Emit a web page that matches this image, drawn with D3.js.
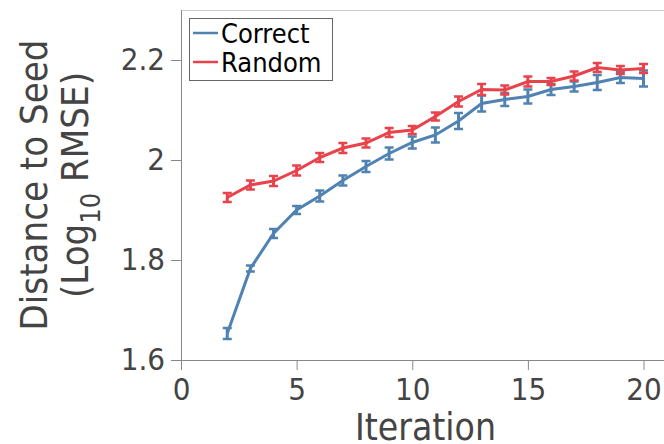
<!DOCTYPE html>
<html>
<head>
<meta charset="utf-8">
<script src="https://d3js.org/d3.v7.min.js"></script>
<style>
  body { margin: 0; background: #fff; }
  text { font-family: "DejaVu Sans Condensed", "DejaVu Sans", sans-serif; }
</style>
</head>
<body>
<script>
// les donnees
const iterations = [2, 3, 4, 5, 6, 7, 8, 9, 10, 11, 12, 13, 14, 15, 16, 17, 18, 19, 20];
const correctMean = [1.653, 1.783, 1.853, 1.900, 1.928, 1.959, 1.987, 2.013, 2.035, 2.050, 2.078, 2.113, 2.121, 2.127, 2.141, 2.147, 2.155, 2.165, 2.163];
const correctErr  = [0.011, 0.006, 0.009, 0.008, 0.011, 0.010, 0.011, 0.012, 0.012, 0.015, 0.016, 0.016, 0.013, 0.014, 0.011, 0.010, 0.015, 0.011, 0.016];
const randomMean  = [1.925, 1.950, 1.958, 1.979, 2.005, 2.024, 2.034, 2.055, 2.060, 2.087, 2.117, 2.141, 2.140, 2.157, 2.157, 2.168, 2.185, 2.180, 2.183];
const randomErr   = [0.009, 0.009, 0.010, 0.010, 0.009, 0.010, 0.009, 0.009, 0.008, 0.008, 0.010, 0.011, 0.009, 0.010, 0.007, 0.009, 0.009, 0.008, 0.009];
const xTicks = [0, 5, 10, 15, 20];
const yTicks = [1.6, 1.8, 2.0, 2.2];
const yTickLabels = ["1.6", "1.8", "2", "2.2"];

const series = [
  {name: "Correct", mean: correctMean, err: correctErr, color: "#5082b2"},
  {name: "Random",  mean: randomMean,  err: randomErr,  color: "#e8434b"}
];

// dimensions
const W = 664, H = 444;
const mLeft = 181, mTop = 10, mBottom = 360;

const svg = d3.select("body").append("svg")
  .attr("width", W)
  .attr("height", H);

const x = d3.scaleLinear().domain([0, 20]).range([mLeft, 643.5]);
const y = d3.scaleLinear().domain([1.6, 2.3]).range([mBottom, mTop]);

// cadre
svg.append("line")
  .attr("x1", mLeft).attr("x2", W).attr("y1", mTop + 0.5).attr("y2", mTop + 0.5)
  .attr("stroke", "#cccccc").attr("stroke-width", 1);
svg.append("line")
  .attr("x1", mLeft + 0.5).attr("x2", mLeft + 0.5).attr("y1", mTop).attr("y2", mBottom)
  .attr("stroke", "#888").attr("stroke-width", 1);
svg.append("line")
  .attr("x1", mLeft).attr("x2", W).attr("y1", mBottom + 0.5).attr("y2", mBottom + 0.5)
  .attr("stroke", "#888").attr("stroke-width", 1);

// axe X
const groupX = svg.append("g").attr("transform", `translate(0, ${mBottom})`);
groupX.call(d3.axisBottom(x).tickValues(xTicks).tickSize(10).tickPadding(8).tickSizeOuter(0));
groupX.select(".domain").remove();
groupX.selectAll("line").attr("stroke", "#888");
groupX.selectAll("text")
  .style("font-size", "31px")
  .attr("fill", "#444");

// axe Y
const groupY = svg.append("g").attr("transform", `translate(${mLeft}, 0)`);
groupY.call(d3.axisLeft(y).tickValues(yTicks).tickFormat((d, i) => yTickLabels[i]).tickSize(10).tickPadding(6).tickSizeOuter(0));
groupY.select(".domain").remove();
groupY.selectAll("line").attr("stroke", "#888");
groupY.selectAll("text")
  .style("font-size", "31px")
  .attr("fill", "#444");

// titres
svg.append("text")
  .attr("x", (mLeft + W) / 2 + 3)
  .attr("y", 440)
  .attr("text-anchor", "middle")
  .style("font-size", "37px")
  .attr("fill", "#444")
  .text("Iteration");

const yTitle = svg.append("text")
  .attr("transform", `translate(0, ${(mTop + mBottom) / 2}) rotate(-90)`)
  .attr("text-anchor", "middle")
  .style("font-size", "38px")
  .attr("fill", "#444");
yTitle.append("tspan").attr("x", 0).attr("y", 47).text("Distance to Seed");
const l2 = yTitle.append("tspan").attr("x", 0).attr("y", 88);
l2.append("tspan").text("(Log");
l2.append("tspan").attr("dy", 12).style("font-size", "27px").text("10");
l2.append("tspan").attr("dy", -12).text(" RMSE)");

// lignes + barres d'erreur
const line = d3.line()
  .x((d, i) => x(iterations[i]))
  .y(d => y(d));

series.forEach(s => {
  const g = svg.append("g");
  g.append("path")
    .attr("d", line(s.mean))
    .attr("fill", "none")
    .attr("stroke", s.color)
    .attr("stroke-width", 3);

  const bars = g.selectAll(".eb").data(s.mean).enter().append("g");
  bars.append("line")
    .attr("x1", (d, i) => x(iterations[i])).attr("x2", (d, i) => x(iterations[i]))
    .attr("y1", (d, i) => y(d - s.err[i])).attr("y2", (d, i) => y(d + s.err[i]))
    .attr("stroke", s.color).attr("stroke-width", 3);
  [-1, 1].forEach(sg => {
    bars.append("line")
      .attr("x1", (d, i) => x(iterations[i]) - 4.5).attr("x2", (d, i) => x(iterations[i]) + 4.5)
      .attr("y1", (d, i) => y(d + sg * s.err[i])).attr("y2", (d, i) => y(d + sg * s.err[i]))
      .attr("stroke", s.color).attr("stroke-width", 2.5);
  });
});

// legende
const leg = svg.append("g");
leg.append("rect")
  .attr("x", 189.5).attr("y", 18.5).attr("width", 143).attr("height", 62)
  .attr("fill", "#fff").attr("stroke", "#666").attr("stroke-width", 1);
series.forEach((s, i) => {
  const ly = 33 + i * 29;
  leg.append("line")
    .attr("x1", 193).attr("x2", 218).attr("y1", ly).attr("y2", ly)
    .attr("stroke", s.color).attr("stroke-width", 2.5);
  leg.append("text")
    .attr("x", 221).attr("y", ly + 10)
    .style("font-size", "27px")
    .attr("fill", "#000")
    .text(s.name);
});
</script>
</body>
</html>
